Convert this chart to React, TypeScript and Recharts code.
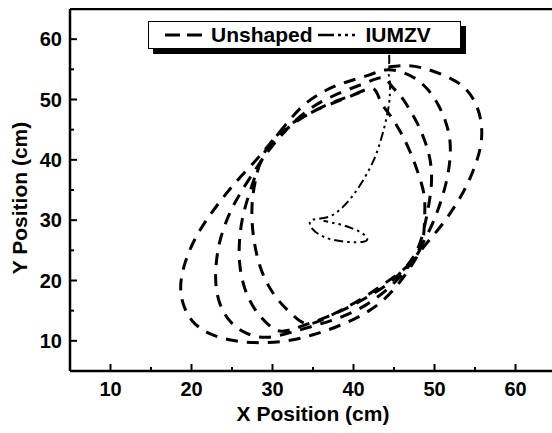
import React from 'react';
import { LineChart, Line, XAxis, YAxis, ReferenceLine, Legend, Label } from 'recharts';

const FONT = '"Liberation Sans", Arial, Helvetica, sans-serif';

const xTicks = [10, 15, 20, 25, 30, 35, 40, 45, 50, 55, 60];
const yTicks = [10, 15, 20, 25, 30, 35, 40, 45, 50, 55, 60];

// unshaped trajectory (x cm, y cm)
const loopA: [number, number][] = [
  [44.3, 55.4], [46.5, 55.6], [48.6, 55.2], [51.0, 54.1], [53.3, 52.4], [54.9, 49.8],
  [55.7, 46.6], [55.8, 43.4], [55.3, 40.2], [54.2, 36.4], [52.6, 32.5], [50.6, 28.7],
  [48.7, 25.6], [47.3, 22.8], [45.8, 19.9], [43.8, 16.9], [41.2, 14.4], [38.2, 12.5],
  [35.0, 11.0], [31.8, 10.0], [28.6, 9.7], [25.4, 10.0], [22.4, 11.1], [20.1, 13.3],
  [18.9, 16.5], [18.7, 19.8], [19.3, 23.3], [20.4, 26.8], [21.9, 30.1], [23.7, 33.4],
  [25.8, 36.8], [28.2, 40.3], [30.0, 43.2], [31.8, 46.1], [33.8, 49.0], [36.3, 51.3],
  [38.9, 52.8], [41.8, 54.0], [43.9, 54.9],
];

const loopB: [number, number][] = [
  [45.8, 54.6], [47.6, 53.5], [49.2, 51.6], [50.5, 49.0], [51.4, 46.2], [51.9, 43.2],
  [51.9, 40.0], [51.5, 36.6], [50.8, 33.2], [49.9, 29.9], [48.8, 26.8], [47.6, 24.0],
  [46.2, 21.3], [44.2, 18.6], [41.6, 16.0], [38.6, 14.0], [35.4, 12.6], [32.3, 11.4],
  [29.4, 10.6], [26.9, 11.2], [24.8, 13.2], [23.5, 16.2], [23.0, 19.7], [23.1, 23.4],
  [23.6, 27.0], [24.6, 30.8], [26.0, 34.4], [28.0, 38.6], [29.8, 42.0], [31.6, 44.8],
  [33.6, 47.4], [36.0, 49.6], [38.7, 51.3], [41.4, 52.7], [43.6, 53.6],
];

const loopC: [number, number][] = [
  [44.6, 52.4], [45.8, 50.6], [46.9, 48.4], [47.9, 46.0], [48.7, 43.5], [49.3, 41.0],
  [49.6, 38.4], [49.6, 35.6], [49.3, 32.6], [48.9, 29.8], [48.4, 27.0], [47.6, 24.4],
  [46.3, 22.0], [44.4, 19.6], [42.0, 17.5], [39.3, 15.5], [36.4, 13.8], [33.5, 12.4],
  [31.1, 11.6], [29.4, 12.8], [27.8, 15.3], [26.6, 18.6], [26.0, 22.2], [25.9, 25.8],
  [26.2, 29.6], [26.9, 33.4], [27.9, 37.4], [29.0, 40.8], [30.6, 43.6], [32.6, 46.0],
  [35.0, 48.0], [37.6, 49.6], [40.2, 50.9], [42.4, 51.8],
];

const loopD: [number, number][] = [
  [43.3, 49.8], [44.5, 47.4], [45.8, 44.6], [47.0, 41.3], [48.0, 37.7], [48.7, 34.3],
  [48.8, 31.2], [48.7, 28.2], [48.3, 25.4], [47.1, 23.0], [45.5, 21.1], [43.3, 19.0],
  [40.8, 16.8], [38.2, 14.9], [35.8, 13.3], [34.0, 12.9], [32.4, 14.4], [30.8, 16.6],
  [29.4, 19.4], [28.4, 22.6], [27.8, 26.0], [27.5, 29.4], [27.5, 33.0], [27.9, 36.6],
  [28.6, 40.0], [29.8, 42.9], [31.5, 45.2], [33.6, 47.0], [36.0, 48.6], [38.6, 50.0],
  [40.8, 51.2],
];

const iumzvPath: [number, number][] = [
  [44.4, 57.4], [44.4, 56.0], [44.3, 54.6], [44.5, 53.0], [44.5, 51.2], [44.4, 49.4],
  [44.0, 46.5], [43.4, 43.4], [42.7, 40.6], [41.9, 38.3], [41.0, 36.2], [40.1, 34.4],
  [39.2, 32.9], [38.2, 31.6], [37.2, 30.7], [36.1, 30.3], [35.0, 30.1], [34.6, 29.6],
  [34.9, 28.6], [35.8, 27.6], [37.3, 26.8], [39.3, 26.4], [41.1, 26.4], [41.7, 26.9],
  [41.1, 27.8], [39.9, 28.6], [38.6, 29.2], [37.3, 29.6], [36.3, 29.9],
];

const unshaped = [...loopA, ...loopB, ...loopC, ...loopD].map(([x, y]) => ({ x, y }));
const iumzv = iumzvPath.map(([x, y]) => ({ x, y }));

const XTick = (props: any) => {
  const { x, y, payload } = props;
  const major = payload.value % 10 === 0;
  return (
    <g>
      <line x1={x} x2={x} y1={y} y2={y - (major ? 7 : 4)} stroke="#000" strokeWidth={2} />
      {major && (
        <text x={x} y={y + 25} textAnchor="middle" fontFamily={FONT} fontWeight="bold" fontSize={20} fill="#000">
          {payload.value}
        </text>
      )}
    </g>
  );
};

const YTick = (props: any) => {
  const { x, y, payload } = props;
  const major = payload.value % 10 === 0;
  return (
    <g>
      <line x1={x} x2={x + (major ? 7 : 4)} y1={y} y2={y} stroke="#000" strokeWidth={2} />
      {major && (
        <text x={x - 8} y={y + 7} textAnchor="end" fontFamily={FONT} fontWeight="bold" fontSize={20} fill="#000">
          {payload.value}
        </text>
      )}
    </g>
  );
};

const renderLegend = () => (
  <div
    style={{
      width: 313,
      height: 28,
      boxSizing: 'border-box',
      border: '1px solid #000',
      background: '#fff',
      boxShadow: '5px 5px 0 #000',
      display: 'flex',
      alignItems: 'center',
      fontFamily: FONT,
      fontWeight: 'bold',
      fontSize: 21,
      color: '#000',
      whiteSpace: 'nowrap',
    }}
  >
    <svg width={37} height={10} style={{ marginLeft: 16 }}>
      <line x1={0} y1={5} x2={37} y2={5} stroke="#000" strokeWidth={3} strokeDasharray="15 7" />
    </svg>
    <span style={{ marginLeft: 9 }}>Unshaped</span>
    <svg width={45} height={10} style={{ marginLeft: 5 }}>
      <line x1={0} y1={5} x2={45} y2={5} stroke="#000" strokeWidth={2.5} strokeDasharray="16 4 3 4 3 4 3 8" />
    </svg>
    <span style={{ marginLeft: 3 }}>IUMZV</span>
  </div>
);

export default function App() {
  return (
    <div style={{ position: 'absolute', left: 8, top: 8, width: 544, height: 425, overflow: 'hidden', background: '#fff' }}>
      <LineChart width={560} height={425} margin={{ top: 1, right: 12, bottom: 0, left: 0 }}>
        <XAxis
          type="number"
          dataKey="x"
          domain={[5, 65]}
          ticks={xTicks}
          interval={0}
          tickSize={0}
          tickMargin={0}
          tickLine={false}
          tick={XTick}
          height={62}
          axisLine={{ stroke: '#000', strokeWidth: 2.5 }}
          allowDataOverflow
        >
          <Label
            content={(p: any) => (
              <text x={p.viewBox.x + p.viewBox.width / 2} y={p.viewBox.y + 50} textAnchor="middle"
                fontFamily={FONT} fontWeight="bold" fontSize={21} fill="#000">
                X Position (cm)
              </text>
            )}
          />
        </XAxis>
        <YAxis
          type="number"
          dataKey="y"
          domain={[5, 65]}
          ticks={yTicks}
          interval={0}
          tickSize={0}
          tickMargin={0}
          tickLine={false}
          tick={YTick}
          width={62}
          axisLine={{ stroke: '#000', strokeWidth: 2.5 }}
          allowDataOverflow
        >
          <Label
            content={(p: any) => {
              const cx = 11.5;
              const cy = p.viewBox.y + p.viewBox.height / 2 + 8;
              return (
                <text x={cx} y={cy} dy={7.5} textAnchor="middle" transform={`rotate(-90 ${cx} ${cy})`}
                  fontFamily={FONT} fontWeight="bold" fontSize={21} fill="#000">
                  Y Position (cm)
                </text>
              );
            }}
          />
        </YAxis>
        <ReferenceLine y={65} stroke="#000" strokeWidth={2.5} />
        <ReferenceLine x={65} stroke="#000" strokeWidth={2.5} />
        <Legend
          layout="horizontal"
          verticalAlign="middle"
          align="center"
          content={renderLegend}
          wrapperStyle={{ left: 140, top: 13, width: 'auto', height: 'auto' }}
        />
        <Line
          name="Unshaped"
          data={unshaped}
          dataKey="y"
          type="natural"
          stroke="#000"
          strokeWidth={3}
          strokeDasharray="12 9"
          dot={false}
          activeDot={false}
          isAnimationActive={false}
        />
        <Line
          name="IUMZV"
          data={iumzv}
          dataKey="y"
          type="natural"
          stroke="#000"
          strokeWidth={2}
          strokeDasharray="9 4 2.5 4 2.5 4"
          dot={false}
          activeDot={false}
          isAnimationActive={false}
        />
      </LineChart>
    </div>
  );
}
